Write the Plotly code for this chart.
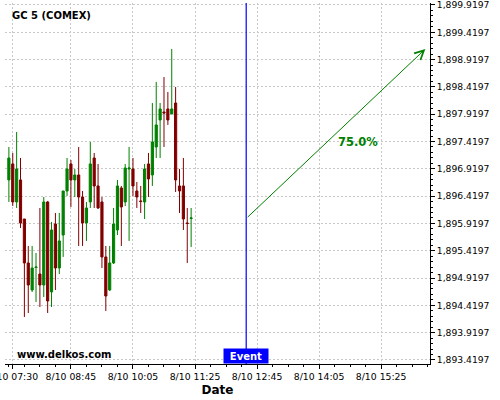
import pandas as pd
import plotly.graph_objects as go

# ---- data ----
start_time = "2023-08-10 07:25"
opens = [1896.716, 1897.009, 1896.313, 1896.716, 1896.001, 1895.196, 1894.701, 1895.113,
         1894.994, 1894.793, 1896.313, 1894.665, 1895.910, 1895.104, 1895.708, 1896.514,
         1897.009, 1896.716, 1896.807, 1896.404, 1895.928, 1896.313, 1897.118, 1896.606,
         1896.313, 1895.306, 1894.701, 1895.196, 1895.800, 1896.569, 1896.313, 1896.917,
         1896.917, 1896.514, 1896.331, 1896.313, 1897.009, 1896.807, 1897.320, 1897.814,
         1897.961, 1898.016, 1897.924, 1898.125, 1896.606, 1896.606, 1895.928, 1896.011]
highs = [1897.320, 1897.210, 1897.594, 1897.118, 1896.001, 1895.507, 1895.507, 1895.379,
         1896.203, 1896.404, 1896.331, 1895.947, 1896.111, 1896.111, 1896.514, 1897.118,
         1897.082, 1896.917, 1897.320, 1896.514, 1896.313, 1897.411, 1897.210, 1897.009,
         1896.404, 1895.507, 1895.507, 1896.203, 1896.716, 1896.606, 1897.009, 1897.320,
         1897.118, 1896.679, 1896.606, 1897.009, 1897.210, 1898.125, 1898.510, 1898.125,
         1898.601, 1898.327, 1899.114, 1898.418, 1896.917, 1897.118, 1896.203, 1896.203]
lows = [1896.313, 1896.239, 1896.203, 1895.837, 1894.207, 1894.280, 1894.665, 1894.482,
        1894.390, 1894.573, 1894.280, 1894.390, 1894.701, 1894.994, 1895.306, 1896.423,
        1896.221, 1896.404, 1895.507, 1895.507, 1895.599, 1896.203, 1896.203, 1896.185,
        1895.104, 1894.317, 1894.683, 1895.177, 1895.708, 1895.507, 1896.239, 1895.599,
        1896.423, 1896.203, 1896.111, 1896.001, 1896.404, 1896.606, 1897.118, 1897.118,
        1897.320, 1897.723, 1897.924, 1896.496, 1896.111, 1895.800, 1895.196, 1895.489]
closes = [1897.118, 1896.313, 1896.917, 1895.928, 1895.196, 1894.793, 1895.104, 1895.122,
          1894.793, 1896.313, 1894.500, 1895.800, 1895.104, 1895.599, 1896.514, 1896.917,
          1896.716, 1896.807, 1896.404, 1895.928, 1896.203, 1897.009, 1896.606, 1896.203,
          1895.306, 1894.591, 1895.196, 1895.910, 1896.606, 1896.221, 1896.935, 1896.935,
          1896.606, 1896.404, 1896.322, 1896.917, 1896.734, 1897.411, 1897.723, 1898.016,
          1897.942, 1897.814, 1898.016, 1896.716, 1896.514, 1896.001, 1895.919, 1896.020]

event_time = "2023-08-10 12:31"
arrow_start = ("2023-08-10 12:31", 1896.010)
arrow_end = ("2023-08-10 16:22", 1899.114)
arrow_label = "75.0%"

x_tick_vals = ["2023-08-10 07:30", "2023-08-10 08:45", "2023-08-10 10:05", "2023-08-10 11:25",
               "2023-08-10 12:45", "2023-08-10 14:05", "2023-08-10 15:25"]
x_tick_text = ["8/10 07:30", "8/10 08:45", "8/10 10:05", "8/10 11:25",
               "8/10 12:45", "8/10 14:05", "8/10 15:25"]
y_tick0 = 1893.4197
y_dtick = 0.5
x_range = ["2023-08-10 07:20", "2023-08-10 16:28"]
y_range = [1893.346, 1899.956]

times = pd.date_range(start_time, periods=len(opens), freq="5min")

GREEN = "#008000"
RED = "#800000"
FONT = "DejaVu Sans"
GRID = "#c8c8c8"

fig = go.Figure()
fig.add_trace(go.Candlestick(
    x=times, open=opens, high=highs, low=lows, close=closes,
    increasing=dict(line=dict(color=GREEN, width=1), fillcolor=GREEN),
    decreasing=dict(line=dict(color=RED, width=1), fillcolor=RED),
    whiskerwidth=0, showlegend=False, hoverinfo="skip",
))

fig.add_shape(type="line", xref="x", yref="paper", x0=event_time, x1=event_time,
              y0=0, y1=1, line=dict(color="#0000ff", width=1.2))

fig.add_annotation(x=arrow_end[0], y=arrow_end[1], ax=arrow_start[0], ay=arrow_start[1],
                   xref="x", yref="y", axref="x", ayref="y", text="",
                   showarrow=True, arrowhead=5, arrowsize=1.8, arrowwidth=1,
                   arrowcolor=GREEN)

fig.add_annotation(x=0.7788, y=0.615, xref="paper", yref="paper", text="<b>" + arrow_label + "</b>",
                   showarrow=False, xanchor="left", yanchor="middle",
                   font=dict(family=FONT, size=11.5, color=GREEN))

fig.add_annotation(x=event_time, y=0, xref="x", yref="paper", text="<b>Event</b>",
                   showarrow=False, xanchor="center", yanchor="bottom",
                   bgcolor="#0000ff", width=42, height=12, borderpad=1,
                   font=dict(family=FONT, size=10, color="white"))

fig.add_annotation(x=0.0118, y=0.9654, xref="paper", yref="paper", text="<b>GC 5 (COMEX)</b>",
                   showarrow=False, xanchor="left", yanchor="middle",
                   font=dict(family=FONT, size=10, color="black"))

fig.add_annotation(x=0.0235, y=0.0277, xref="paper", yref="paper", text="<b>www.delkos.com</b>",
                   showarrow=False, xanchor="left", yanchor="middle",
                   font=dict(family=FONT, size=10, color="black"))

fig.update_layout(
    width=500, height=400,
    margin=dict(l=5, r=70, t=3, b=36),
    paper_bgcolor="white", plot_bgcolor="white",
    boxgap=0.2,
    showlegend=False,
    font=dict(family=FONT, size=10, color="black"),
    xaxis=dict(
        type="date", range=x_range, rangeslider=dict(visible=False),
        automargin=False, ticklabeloverflow="allow",
        tickmode="array", tickvals=x_tick_vals, ticktext=x_tick_text,
        tickfont=dict(family=FONT, size=9.3, color="black"),
        ticks="outside", ticklen=4, tickcolor="black",
        showline=True, linecolor="black", linewidth=1,
        showgrid=True, gridcolor=GRID, griddash="2px,2px", gridwidth=1,
        zeroline=False,
        minor=dict(tick0="2023-08-10 08:45", dtick=1200000, ticks="outside",
                   ticklen=2, tickcolor="black", showgrid=False),
        title=dict(text="<b>Date</b>", font=dict(family=FONT, size=12, color="black"),
                   standoff=4),
    ),
    yaxis=dict(
        side="right", range=y_range, tick0=y_tick0, dtick=y_dtick,
        automargin=False, ticklabeloverflow="allow",
        tickformat=",.4f",
        tickfont=dict(family=FONT, size=9.2, color="black"),
        ticks="outside", ticklen=4, tickcolor="black",
        showline=True, linecolor="black", linewidth=1,
        showgrid=True, gridcolor=GRID, griddash="2px,2px", gridwidth=1,
        zeroline=False,
        minor=dict(tick0=y_tick0, dtick=0.1, ticks="outside", ticklen=2,
                   tickcolor="black", showgrid=False),
    ),
)

fig.write_html("out.html", config={"displayModeBar": False},
               post_script="document.body.style.margin='0px';")
